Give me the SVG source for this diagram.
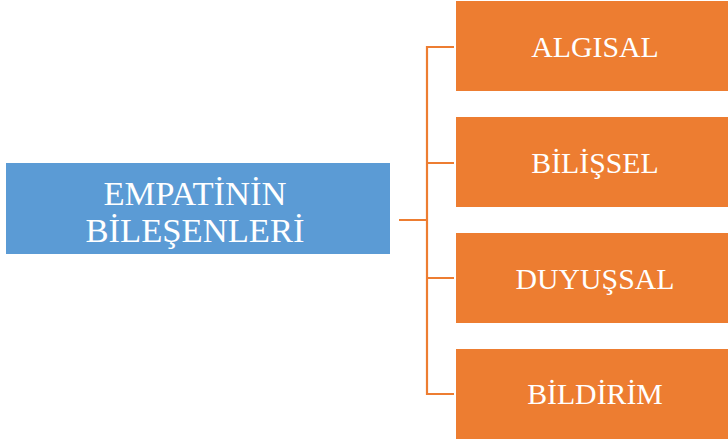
<svg xmlns="http://www.w3.org/2000/svg" width="728" height="444" viewBox="0 0 728 444">
<style>
.o{fill:#ED7D31}
.t{font-family:"Liberation Serif","Times New Roman",serif;fill:#fff;text-anchor:middle}
.s{font-size:29.8px}
.b{font-size:34.6px}
.c{fill:none;stroke:#ED7D31;stroke-width:2.2}
</style>
<rect width="728" height="444" fill="#fff"/>
<g id="connectors">
<path class="c" d="M399 220H427M454 47H427V394H454M427 163H454M427 278H454"/>
</g>
<g id="root">
<rect x="6" y="163" width="384" height="91" fill="#5B9BD5"/>
<text class="t b" x="195" y="205">EMPATİNİN</text>
<text class="t b" x="195" y="241.5">BİLEŞENLERİ</text>
</g>
<g id="algisal"><rect class="o" x="456" y="1" width="272" height="90"/><text class="t s" x="595" y="57">ALGISAL</text></g>
<g id="bilissel"><rect class="o" x="456" y="117" width="272" height="90"/><text class="t s" x="595" y="173">BİLİŞSEL</text></g>
<g id="duyussal"><rect class="o" x="456" y="233" width="272" height="90"/><text class="t s" x="595" y="289">DUYUŞSAL</text></g>
<g id="bildirim"><rect class="o" x="456" y="349" width="272" height="90"/><text class="t s" x="595" y="404">BİLDİRİM</text></g>
</svg>
